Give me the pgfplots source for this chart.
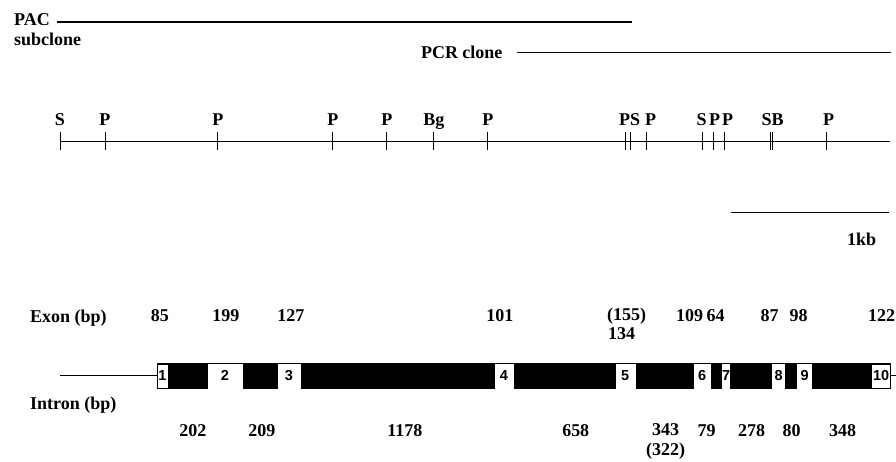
\documentclass[border=0pt]{standalone}
\usepackage{pgfplots}
\pgfplotsset{compat=1.18}
\usepackage{fontspec}
\setmainfont{Liberation Serif}
\setsansfont{Liberation Sans}
\begin{document}
\begin{tikzpicture}[every node/.style={font=\fontsize{18}{20}\selectfont\bfseries, inner sep=0pt}]
\begin{axis}[x=1pt, y=1pt, y dir=reverse, xmin=0, xmax=896, ymin=0, ymax=462,
  hide axis, clip=false, anchor=origin]
% invisible frame for bounding box
\addplot[draw=none] coordinates {(0,0) (896,462)};
% PAC subclone line
\addplot[black, line width=1.2pt] coordinates {(57,22) (632,22)};
\node[anchor=base west] at (axis cs:14,26) {PAC};
\node[anchor=base west] at (axis cs:14,46) {subclone};
% PCR clone line
\addplot[black, line width=1pt] coordinates {(517,53) (891,53)};
\node[anchor=base west] at (axis cs:421,59) {PCR clone};
% restriction map
\addplot[black, line width=0.8pt] coordinates {(60,141) (890,141)};
\addplot[only marks, mark=|, mark size=9pt, mark options={line width=0.9pt}, black] coordinates {
 (60,141) (105,141) (218,141) (333,141) (387,141) (434,141) (488,141)
 (626,141) (631,141) (647,141) (703,141) (714,141) (725,141)
 (771,141) (773,141) (827,141)};
\node[anchor=base] at (axis cs:60,126) {S};
\node[anchor=base] at (axis cs:105,126) {P};
\node[anchor=base] at (axis cs:218,126) {P};
\node[anchor=base] at (axis cs:333,126) {P};
\node[anchor=base] at (axis cs:387,126) {P};
\node[anchor=base] at (axis cs:434,126) {Bg};
\node[anchor=base] at (axis cs:488,126) {P};
\node[anchor=base] at (axis cs:630,126) {PS};
\node[anchor=base] at (axis cs:651,126) {P};
\node[anchor=base] at (axis cs:702,126) {S};
\node[anchor=base] at (axis cs:715,126) {P};
\node[anchor=base] at (axis cs:728,126) {P};
\node[anchor=base] at (axis cs:773,126) {SB};
\node[anchor=base] at (axis cs:829,126) {P};
% scale bar
\addplot[black, line width=1pt] coordinates {(731,213) (889,213)};
\node[anchor=base] at (axis cs:862,246) {1kb};
% exon sizes
\node[anchor=base west] at (axis cs:30,323) {Exon (bp)};
\node[anchor=base] at (axis cs:160,322) {85};
\node[anchor=base] at (axis cs:226,322) {199};
\node[anchor=base] at (axis cs:291,322) {127};
\node[anchor=base] at (axis cs:500,322) {101};
\node[anchor=base] at (axis cs:627,321) {(155)};
\node[anchor=base] at (axis cs:622,340) {134};
\node[anchor=base] at (axis cs:690,322) {109};
\node[anchor=base] at (axis cs:716,322) {64};
\node[anchor=base] at (axis cs:770,322) {87};
\node[anchor=base] at (axis cs:799,322) {98};
\node[anchor=base] at (axis cs:882,322) {122};
% gene structure
\addplot[black, line width=0.8pt] coordinates {(60,376) (157,376)};
\addplot[fill=black, draw=black] coordinates {(157,363) (891,363) (891,388) (157,388)} -- cycle;
\addplot[black, line width=0.8pt] coordinates {(891,376) (896,376)};
\addplot[fill=white, draw=black, line width=0.6pt] coordinates {(157,364) (168,364) (168,388) (157,388)} -- cycle;
\addplot[fill=white, draw=white] coordinates {(208,364) (242,364) (242,388) (208,388)} -- cycle;
\addplot[fill=white, draw=white] coordinates {(278,364) (300,364) (300,388) (278,388)} -- cycle;
\addplot[fill=white, draw=white] coordinates {(495,364) (513,364) (513,388) (495,388)} -- cycle;
\addplot[fill=white, draw=white] coordinates {(616,364) (635,364) (635,388) (616,388)} -- cycle;
\addplot[fill=white, draw=white] coordinates {(694,364) (711,364) (711,388) (694,388)} -- cycle;
\addplot[fill=white, draw=white] coordinates {(723,364) (730,364) (730,388) (723,388)} -- cycle;
\addplot[fill=white, draw=white] coordinates {(773,364) (785,364) (785,388) (773,388)} -- cycle;
\addplot[fill=white, draw=white] coordinates {(798,364) (812,364) (812,388) (798,388)} -- cycle;
\addplot[fill=white, draw=black, line width=0.6pt] coordinates {(872,364) (891,364) (891,388) (872,388)} -- cycle;
\begin{scope}[every node/.style={font=\fontsize{14.5}{16}\selectfont\sffamily\bfseries, inner sep=0pt}]
\node at (axis cs:162.5,376) {1};
\node at (axis cs:225,376) {2};
\node at (axis cs:289,376) {3};
\node at (axis cs:504,376) {4};
\node at (axis cs:625.5,376) {5};
\node at (axis cs:702.5,376) {6};
\node at (axis cs:726.5,376) {7};
\node at (axis cs:779,376) {8};
\node at (axis cs:805,376) {9};
\node at (axis cs:881.5,376) {10};
\end{scope}
% intron sizes
\node[anchor=base west] at (axis cs:30,410) {Intron (bp)};
\node[anchor=base] at (axis cs:193,437) {202};
\node[anchor=base] at (axis cs:262,437) {209};
\node[anchor=base] at (axis cs:405,437) {1178};
\node[anchor=base] at (axis cs:576,437) {658};
\node[anchor=base] at (axis cs:666,436) {343};
\node[anchor=base] at (axis cs:666,456) {(322)};
\node[anchor=base] at (axis cs:707,437) {79};
\node[anchor=base] at (axis cs:752,437) {278};
\node[anchor=base] at (axis cs:792,437) {80};
\node[anchor=base] at (axis cs:843,437) {348};
\end{axis}
\end{tikzpicture}
\end{document}
